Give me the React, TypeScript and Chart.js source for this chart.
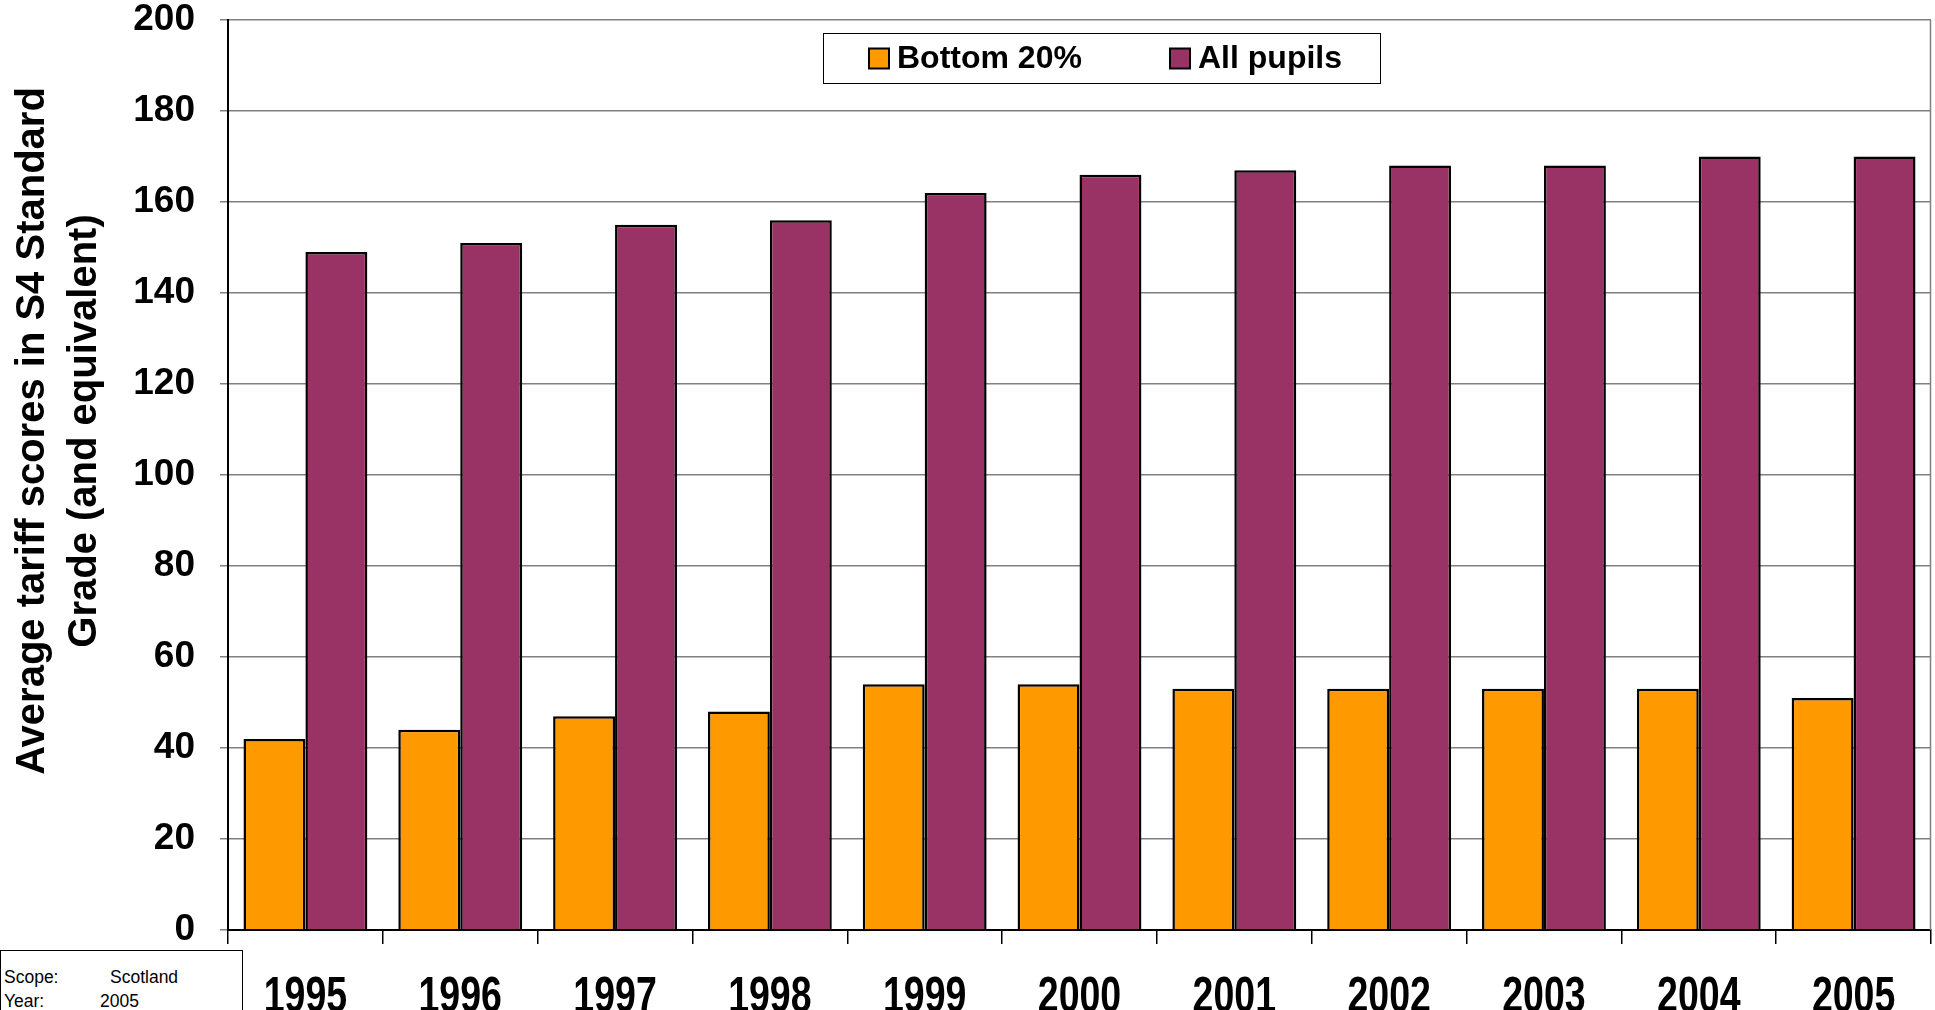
import React, { useEffect, useRef } from 'react';
import { Chart, registerables } from 'chart.js';

Chart.register(...registerables);

const years = ['1995', '1996', '1997', '1998', '1999', '2000', '2001', '2002', '2003', '2004', '2005'];
const bottom20 = [42, 44, 47, 48, 54, 54, 53, 53, 53, 53, 51];
const allPupils = [149, 151, 155, 156, 162, 166, 167, 168, 168, 170, 170];
const seriesNames = ['Bottom 20%', 'All pupils'];
const seriesColors = ['#FF9900', '#993366'];
const yTitleLines = ['Average tariff scores in S4 Standard', 'Grade (and equivalent)'];
const scopeLabels = ['Scope:', 'Year:'];
const scopeValues = ['Scotland', '2005'];

const FONT = '"Liberation Sans", Arial, sans-serif';

const overlayPlugin = {
  id: 'overlay',
  afterDraw(chart: any) {
    const ctx = chart.ctx;
    const ca = chart.chartArea;
    ctx.save();
    // right border of plot
    ctx.strokeStyle = '#808080';
    ctx.lineWidth = 1.5;
    ctx.beginPath();
    ctx.moveTo(ca.right - 0.5, ca.top);
    ctx.lineTo(ca.right - 0.5, ca.bottom);
    ctx.stroke();

    // x category labels (tall, vertically stretched as in the reference)
    const xs = chart.scales.x;
    ctx.fillStyle = '#000';
    ctx.font = 'bold 37.5px ' + FONT;
    ctx.textAlign = 'center';
    ctx.textBaseline = 'alphabetic';
    const stretch = 1.35;
    const labelTop = 976;
    const capH = 0.716 * 37.5 * stretch;
    (chart.data.labels as string[]).forEach((lab, i) => {
      const x = xs.getPixelForTick(i);
      ctx.save();
      ctx.translate(x, labelTop + capH);
      ctx.scale(1, stretch);
      ctx.fillText(lab, 0, 0);
      ctx.restore();
    });

    // y axis title (two lines, rotated)
    ctx.font = 'bold 40px ' + FONT;
    ctx.textAlign = 'center';
    ctx.textBaseline = 'middle';
    const titleCenterY = 431;
    const lineXs = [33, 85];
    yTitleLines.forEach((line, i) => {
      ctx.save();
      ctx.translate(lineXs[i], titleCenterY);
      ctx.rotate(-Math.PI / 2);
      ctx.fillText(line, 0, 0);
      ctx.restore();
    });

    // legend box inside chart area
    const lx = 823, ly = 33, lw = 557, lh = 50;
    ctx.fillStyle = '#fff';
    ctx.fillRect(lx, ly, lw, lh);
    ctx.strokeStyle = '#000';
    ctx.lineWidth = 1;
    ctx.strokeRect(lx + 0.5, ly + 0.5, lw, lh);
    const swatchXs = [869, 1170];
    const cy = ly + lh / 2 + 0.5;
    ctx.font = 'bold 32px ' + FONT;
    ctx.textAlign = 'left';
    ctx.textBaseline = 'middle';
    chart.data.datasets.forEach((ds: any, i: number) => {
      const sx = swatchXs[i];
      ctx.fillStyle = ds.backgroundColor;
      ctx.fillRect(sx, cy - 10, 20, 20);
      ctx.strokeStyle = '#000';
      ctx.lineWidth = 2;
      ctx.strokeRect(sx, cy - 10, 20, 20);
      ctx.fillStyle = '#000';
      ctx.fillText(ds.label, sx + 28, cy + 1);
    });
    ctx.restore();
  },
};

export default function App() {
  const canvasRef = useRef<HTMLCanvasElement | null>(null);

  useEffect(() => {
    const canvas = canvasRef.current;
    if (!canvas) return;
    const chart = new Chart(canvas, {
      type: 'bar',
      data: {
        labels: years,
        datasets: [
          {
            label: seriesNames[0],
            data: bottom20,
            backgroundColor: seriesColors[0],
            borderColor: '#000',
            borderWidth: 2.5,
            categoryPercentage: 0.8,
            barPercentage: 1.0,
          },
          {
            label: seriesNames[1],
            data: allPupils,
            backgroundColor: seriesColors[1],
            borderColor: '#000',
            borderWidth: 2.5,
            categoryPercentage: 0.8,
            barPercentage: 1.0,
          },
        ],
      },
      options: {
        responsive: false,
        animation: false,
        devicePixelRatio: 1,
        layout: { padding: { top: 20, right: 4, left: 0, bottom: 0 } },
        plugins: {
          legend: { display: false },
          tooltip: { enabled: false },
          title: { display: false },
        },
        scales: {
          x: {
            afterFit: (scale: any) => {
              scale.height = 80;
              scale.paddingLeft = 0;
              scale.paddingRight = 0;
            },
            grid: {
              display: true,
              drawOnChartArea: false,
              drawTicks: true,
              tickLength: 14,
              color: '#000',
              lineWidth: 1.5,
              offset: true,
            },
            border: { display: true, color: '#000', width: 2 },
            ticks: {
              display: false,
              color: '#000',
              font: { family: FONT, size: 37, weight: 'bold' },
            },
          },
          y: {
            min: 0,
            max: 200,
            afterFit: (scale: any) => {
              scale.width = 228;
              scale.paddingTop = 0;
              scale.paddingBottom = 0;
            },
            grid: {
              color: '#808080',
              lineWidth: 1.5,
              tickLength: 8,
            },
            border: { display: true, color: '#000', width: 2 },
            ticks: {
              stepSize: 20,
              color: '#000',
              padding: 25,
              font: { family: FONT, size: 37, weight: 'bold' },
            },
          },
        },
      },
      plugins: [overlayPlugin],
    });
    return () => chart.destroy();
  }, []);

  return (
    <div
      style={{
        position: 'fixed',
        left: 0,
        top: 0,
        width: 1935,
        height: 1010,
        overflow: 'hidden',
        background: '#fff',
      }}
    >
      <canvas ref={canvasRef} width={1935} height={1010} style={{ display: 'block' }} />
      <div
        style={{
          position: 'absolute',
          left: 0,
          top: 950,
          width: 243,
          height: 80,
          border: '1px solid #000',
          background: '#fff',
          fontFamily: FONT,
          fontSize: 17.5,
          lineHeight: '24px',
          boxSizing: 'border-box',
        }}
      >
        {scopeLabels.map((lab, i) => (
          <div key={i} style={{ position: 'absolute', top: 14 + i * 24, left: 0, width: 243, height: 24 }}>
            <span style={{ position: 'absolute', left: 3 }}>{lab}</span>
            <span style={{ position: 'absolute', left: i === 0 ? 109 : 99 }}>{scopeValues[i]}</span>
          </div>
        ))}
      </div>
    </div>
  );
}
